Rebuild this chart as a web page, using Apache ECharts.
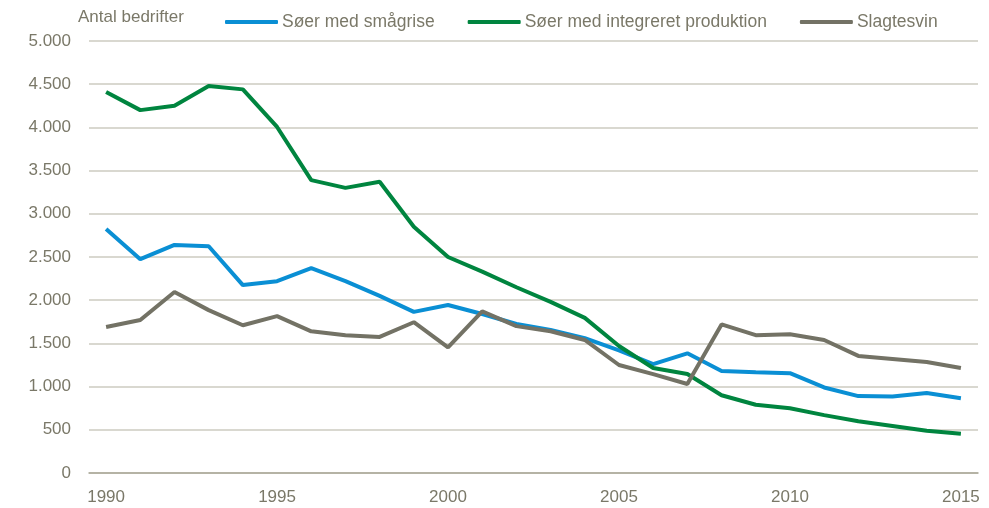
<!DOCTYPE html>
<html>
<head>
<meta charset="utf-8">
<script src="https://cdn.jsdelivr.net/npm/echarts@6/dist/echarts.min.js"></script>
<style>
  html, body { margin: 0; padding: 0; background: #fff; }
  #chart { width: 989px; height: 508px; }
</style>
</head>
<body>
<div id="chart"></div>
<script>
const years = [];
for (let y = 1990; y <= 2015; y++) years.push(String(y));

const soerSmaagrise = [2825, 2475, 2640, 2625, 2175, 2220, 2370, 2220, 2050, 1865, 1945, 1840, 1725, 1655, 1560, 1420, 1260, 1385, 1180, 1165, 1155, 990, 890, 885, 925, 865];
const soerIntegreret = [4410, 4200, 4250, 4480, 4440, 4005, 3390, 3300, 3370, 2850, 2500, 2330, 2150, 1980, 1795, 1470, 1215, 1145, 900, 790, 750, 670, 600, 545, 490, 455];
const slagtesvin = [1690, 1770, 2095, 1885, 1710, 1815, 1640, 1595, 1575, 1745, 1455, 1870, 1700, 1640, 1540, 1250, 1145, 1030, 1720, 1595, 1605, 1540, 1355, 1320, 1285, 1215];

const textColor = '#7a7868';
const font = '"Liberation Sans Narrow", "Arial Narrow", "Liberation Sans", sans-serif';

const chart = echarts.init(document.getElementById('chart'));

const option = {
  animation: false,
  backgroundColor: '#fff',
  textStyle: { fontFamily: font },
  grid: { left: 89, right: 11, top: 41, bottom: 35 },
  legend: {
    top: 8,
    left: 220,
    itemWidth: 53,
    itemHeight: 4,
    itemGap: 33,
    icon: 'roundRect',
    textStyle: { color: textColor, fontSize: 17.5, fontFamily: font, padding: [0, 0, 0, -1] },
    data: ['Søer med smågrise', 'Søer med integreret produktion', 'Slagtesvin']
  },
  graphic: [{
    type: 'text',
    left: 78,
    top: 9,
    style: { text: 'Antal bedrifter', fill: textColor, fontSize: 17, fontFamily: font }
  }],
  xAxis: {
    type: 'category',
    data: years,
    boundaryGap: true,
    axisLine: { show: true, lineStyle: { color: '#a9a797', width: 1.5 } },
    axisTick: { show: false },
    axisLabel: {
      interval: 4,
      color: textColor,
      fontSize: 17,
      fontFamily: font,
      margin: 16
    }
  },
  yAxis: {
    type: 'value',
    min: 0,
    max: 5000,
    interval: 500,
    axisLine: { show: false },
    axisTick: { show: false },
    axisLabel: {
      color: textColor,
      fontSize: 17,
      fontFamily: font,
      margin: 18,
      formatter: v => v >= 1000 ? Math.floor(v / 1000) + '.' + String(v % 1000).padStart(3, '0') : String(v)
    },
    splitLine: { lineStyle: { color: '#cdcbc1', width: 1.5 } }
  },
  series: [
    {
      name: 'Søer med smågrise',
      type: 'line',
      data: soerSmaagrise,
      symbol: 'none',
      color: '#0a8fd4',
      lineStyle: { width: 4, color: '#0a8fd4' }
    },
    {
      name: 'Søer med integreret produktion',
      type: 'line',
      data: soerIntegreret,
      symbol: 'none',
      color: '#00853f',
      lineStyle: { width: 4, color: '#00853f' }
    },
    {
      name: 'Slagtesvin',
      type: 'line',
      data: slagtesvin,
      symbol: 'none',
      color: '#737265',
      lineStyle: { width: 4, color: '#737265' }
    }
  ]
};

chart.setOption(option);
window.addEventListener('resize', () => chart.resize());
</script>
</body>
</html>
